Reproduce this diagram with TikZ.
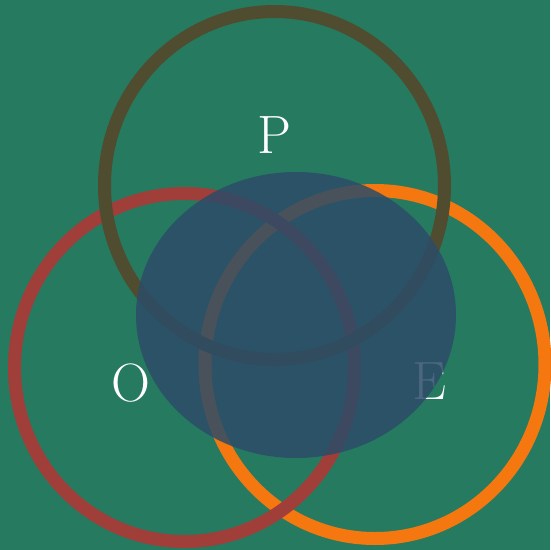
\documentclass[tikz,border=0pt]{standalone}
\begin{document}
\begin{tikzpicture}[x=1pt,y=-1pt,
  ring/.style={line width=13pt},
  lbl/.style={inner sep=0pt,font=\fontsize{54}{54}\selectfont}]
\definecolor{bg}{HTML}{267A60}
\definecolor{ringP}{HTML}{504C30}
\definecolor{ringO}{HTML}{A03E3A}
\definecolor{ringE}{HTML}{F5770F}
\definecolor{blob}{HTML}{2C4C68}
\fill[bg] (0,0) rectangle (550,550);
\useasboundingbox (0,0) rectangle (550,550);
\draw[ring,ringE] (375,364.5) ellipse [x radius=170,y radius=174];
\draw[ring,ringO] (184.5,367.5) ellipse [x radius=170,y radius=174];
\draw[ring,ringP] (274.5,185.5) ellipse [x radius=170,y radius=174];
\node[lbl,text=white] (P) at (274,135) {P};
\node[lbl,text=white] (O) at (131,383) {O};
\node[lbl,text=white] (E) at (429,381) {E};
\fill[blob,opacity=0.85] (296,315) ellipse [x radius=160,y radius=143];
\end{tikzpicture}
\end{document}
